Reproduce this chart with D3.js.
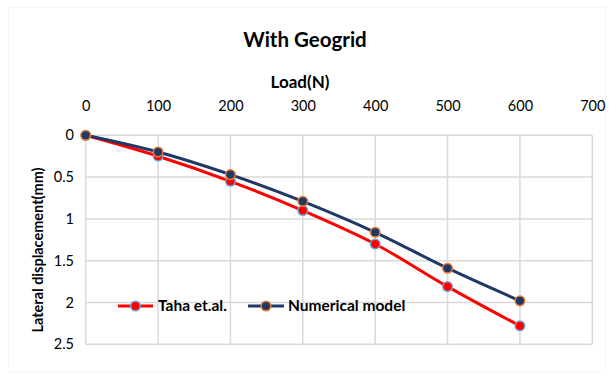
<!DOCTYPE html>
<html>
<head>
<meta charset="utf-8">
<script src="https://cdn.jsdelivr.net/npm/d3@7"></script>
<style>
  html, body { margin: 0; padding: 0; background: #fff; }
  svg { display: block; }
  text { font-family: Lato, "Open Sans", sans-serif; fill: #000; }
</style>
</head>
<body>
<script>
const loads = [0, 100, 200, 300, 400, 500, 600];
const tahaValues = [0, 0.25, 0.55, 0.9, 1.3, 1.81, 2.28];
const numericalValues = [0, 0.2, 0.47, 0.79, 1.16, 1.59, 1.98];
const xTicks = [0, 100, 200, 300, 400, 500, 600, 700];
const yTicks = [0, 0.5, 1, 1.5, 2, 2.5];
const seriesNames = ["Taha et.al.", "Numerical model"];
const titleText = "With Geogrid";
const xTitle = "Load(N)";
const yTitle = "Lateral displacement(mm)";

const W = 613, H = 379;
const plot = { left: 85.7, right: 592.3, top: 135.3, bottom: 344.3 };

const svg = d3.select("body").append("svg").attr("width", W).attr("height", H);

// chart area frame (very faint)
svg.append("rect").attr("x", 8.5).attr("y", 7.5).attr("width", 597).attr("height", 364)
  .attr("fill", "#fff").attr("stroke", "#f6f6f6").attr("stroke-width", 1);

const x = d3.scaleLinear().domain([0, 700]).range([plot.left, plot.right]);
const y = d3.scaleLinear().domain([0, 2.5]).range([plot.top, plot.bottom]);

// gridlines
const grid = svg.append("g");
grid.selectAll("line.v").data(xTicks).join("line")
  .attr("x1", d => x(d)).attr("x2", d => x(d))
  .attr("y1", plot.top).attr("y2", plot.bottom)
  .attr("stroke", "#d9d9d9").attr("stroke-width", 1.5);
grid.selectAll("line.h").data(yTicks).join("line")
  .attr("x1", plot.left).attr("x2", plot.right)
  .attr("y1", d => y(d)).attr("y2", d => y(d))
  .attr("stroke", "#d9d9d9").attr("stroke-width", 1.5);

// axes (labels only)
const xAxis = d3.axisTop(x).tickValues(xTicks).tickSize(0).tickPadding(0).tickFormat(d3.format("d"));
const gx = svg.append("g").attr("transform", `translate(0,${106})`).call(xAxis);
gx.select(".domain").remove();
gx.selectAll("text").attr("font-size", 14.5).attr("font-family", "Lato, sans-serif").attr("dy", "0.35em").attr("fill", "#000");

const yAxis = d3.axisLeft(y).tickValues(yTicks).tickSize(0).tickPadding(0).tickFormat(d => d);
const gy = svg.append("g").attr("transform", `translate(${74},0)`).call(yAxis);
gy.select(".domain").remove();
gy.selectAll("text").attr("font-size", 14.5).attr("font-family", "Lato, sans-serif").attr("fill", "#000");

// titles
svg.append("text").attr("x", 305).attr("y", 47).attr("text-anchor", "middle")
  .attr("font-size", 20.5).attr("font-weight", "bold").text(titleText);
svg.append("text").attr("x", 300).attr("y", 88).attr("text-anchor", "middle")
  .attr("font-size", 17).attr("font-weight", "bold").text(xTitle);
svg.append("text").attr("transform", `translate(43,250) rotate(-90)`).attr("text-anchor", "middle")
  .attr("font-size", 14.5).attr("font-weight", "bold").text(yTitle);

// series
const series = [
  { name: seriesNames[0], values: tahaValues, line: "#ff0000", fill: "#ff0000", stroke: "#6fa8dc" },
  { name: seriesNames[1], values: numericalValues, line: "#203864", fill: "#203864", stroke: "#ed7d31" }
];

const lineGen = d3.line().x(d => x(d[0])).y(d => y(d[1])).curve(d3.curveCatmullRom.alpha(0.5));

series.forEach(s => {
  const pts = loads.map((l, i) => [l, s.values[i]]);
  svg.append("path").datum(pts).attr("d", lineGen)
    .attr("fill", "none").attr("stroke", s.line).attr("stroke-width", 3).attr("stroke-linejoin", "round");
  svg.append("g").selectAll("circle").data(pts).join("circle")
    .attr("cx", d => x(d[0])).attr("cy", d => y(d[1])).attr("r", 4.8)
    .attr("fill", s.fill).attr("stroke", s.stroke).attr("stroke-width", 1.5);
});

// legend
const legendItems = [
  { s: series[0], x0: 118, x1: 153, tx: 158 },
  { s: series[1], x0: 248, x1: 284, tx: 288 }
];
const ly = 306;
legendItems.forEach(it => {
  svg.append("line").attr("x1", it.x0).attr("x2", it.x1).attr("y1", ly).attr("y2", ly)
    .attr("stroke", it.s.line).attr("stroke-width", 3);
  svg.append("circle").attr("cx", (it.x0 + it.x1) / 2).attr("cy", ly).attr("r", 4.8)
    .attr("fill", it.s.fill).attr("stroke", it.s.stroke).attr("stroke-width", 1.5);
  svg.append("text").attr("x", it.tx).attr("y", ly).attr("dy", "0.35em")
    .attr("font-size", 15.5).attr("font-weight", "bold").text(it.s.name);
});
</script>
</body>
</html>
